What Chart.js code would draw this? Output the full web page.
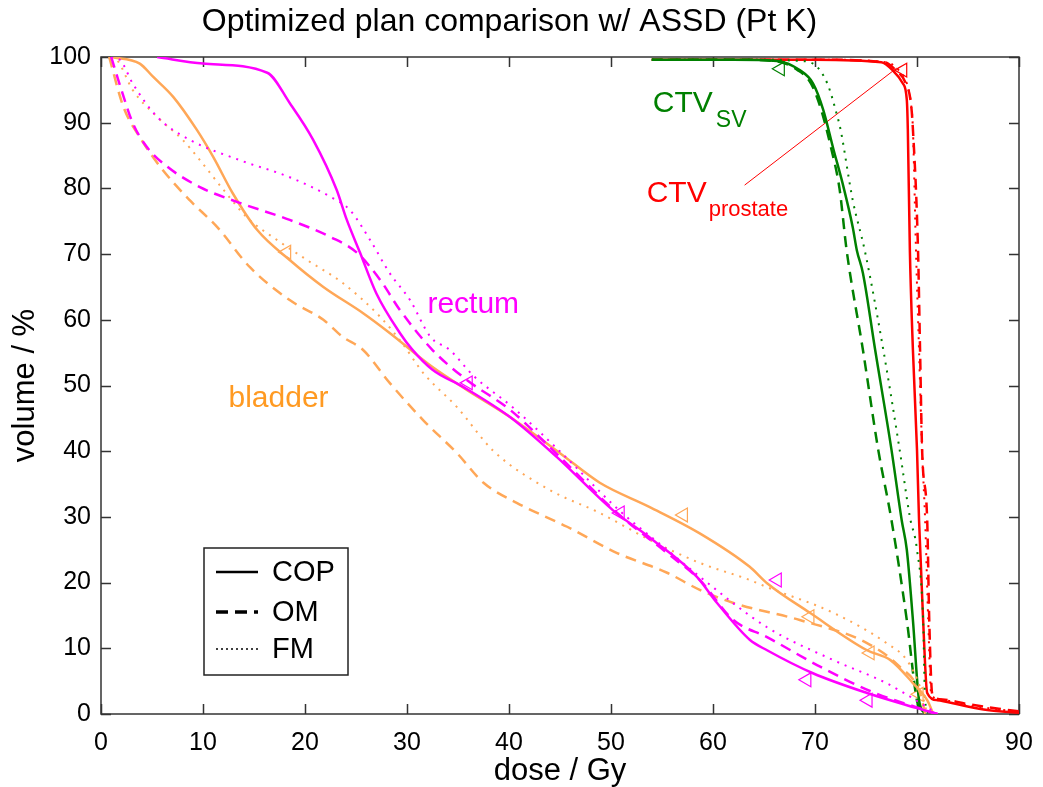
<!DOCTYPE html>
<html>
<head>
<meta charset="utf-8">
<script src="https://cdn.jsdelivr.net/npm/chart.js@4.4.1/dist/chart.umd.min.js"></script>
<style>
  html, body { margin: 0; padding: 0; background: #fff; }
  #dvh { display: block; }
</style>
</head>
<body>
<canvas id="dvh" width="1043" height="787"></canvas>
<script>
// dose (Gy) / volume (%), one pair of arrays per curve
var doseRectumCOP = [5.5, 10, 16.3, 18.5, 20.8, 23.1, 24.1, 25.4, 27, 29.3, 30.5, 32.5, 35.5, 40.1, 44.7, 50.2, 54.1, 58.4, 60.4, 63.6, 65.3, 69.8, 75.1, 80, 82];
var volRectumCOP  = [100, 99, 97.6, 93, 87.4, 79.8, 75.2, 70.2, 64, 58, 55.5, 52.4, 49.8, 45.2, 39.1, 31, 26.5, 20.9, 16.9, 11.3, 9.7, 6.2, 3.2, 0.9, 0];
var doseRectumOM  = [1, 2, 3.1, 4.5, 6.5, 9.7, 13.6, 18.5, 22.5, 25.1, 27.4, 29.3, 32.5, 35.9, 40.1, 45, 50.6, 55.5, 58.7, 62, 65.3, 70.5, 75.7, 80, 82];
var volRectumOM   = [100, 95, 90, 86.3, 83.3, 80.2, 77.8, 75.2, 72.6, 70.2, 66, 61.5, 55.4, 50.8, 46.3, 39.1, 30.6, 24.5, 20.4, 14.3, 11.7, 7.2, 3.3, 1, 0];
var doseRectumFM  = [1, 1.9, 3.1, 5.5, 8.7, 13.6, 18.5, 22.5, 24.4, 26.4, 28.3, 30.3, 32.3, 34.2, 36.5, 40.5, 45.3, 50.8, 55.5, 58.7, 65.3, 71.8, 77, 80.3, 82];
var volRectumFM   = [100, 99.5, 96, 90.9, 87.4, 84.3, 81.7, 78.7, 76.7, 72.1, 67.1, 63, 57.4, 55.4, 51.5, 46.5, 39.5, 31, 25, 20.9, 13.2, 8.2, 4.7, 1.7, 0];

var doseBladderCOP = [1, 3.8, 5.1, 7.1, 9.4, 11, 12.9, 15.3, 18.5, 21.8, 25.7, 28.3, 32.5, 35.9, 40.1, 45, 48.9, 53.8, 58.7, 63.6, 65.3, 69.5, 75.1, 77.4, 79.6, 81, 81.6];
var volBladderCOP  = [100, 99, 97, 93.9, 88.9, 84.8, 79.3, 73.7, 69.1, 65, 61, 58, 52.8, 49.3, 45.2, 39.7, 35.2, 31.5, 27.5, 22.4, 19.9, 15.4, 9.7, 8.2, 4.7, 2.1, 0];
var doseBladderOM  = [0.8, 2.2, 3.8, 5.8, 8.7, 11.4, 14.6, 18.5, 21.8, 23.7, 25.7, 28.3, 31.6, 34.9, 37.5, 40.8, 45.7, 50.6, 55.5, 58.7, 62, 68.5, 75.1, 78.3, 80.3, 80.8];
var volBladderOM   = [100, 92.4, 87.8, 83.3, 78.2, 74.1, 68, 63, 60, 57.4, 55.4, 50.4, 44.7, 39.7, 35.2, 32.1, 28.5, 24.5, 21.5, 18.9, 16.9, 14.3, 10.8, 7.2, 3.2, 0];
var doseBladderFM  = [1, 1.6, 3.1, 5.5, 8, 9.7, 12, 14.3, 17.3, 20.2, 23.7, 27.4, 29.5, 31.6, 34.9, 38.5, 44, 48.9, 53.8, 58.7, 63.6, 65.3, 71.8, 77, 79, 80.3, 81];
var volBladderFM   = [100, 99.5, 95, 90.9, 87.4, 84.3, 79.8, 75.6, 72.1, 69.1, 65.6, 60.4, 56.5, 51.9, 46.7, 40, 34.1, 30.6, 26.5, 23, 20.4, 19.3, 15.4, 10.8, 8.2, 4.1, 0];

var doseSvCOP = [54, 62, 66.3, 68.5, 69.8, 70.8, 71.8, 72.7, 73.7, 74.1, 74.7, 75.9, 77.5, 78.5, 79, 79.6, 80.2, 80.8];
var volSvCOP  = [99.6, 99.6, 99.4, 98, 96, 92, 86, 80.8, 74.1, 70.6, 67.1, 55.4, 40.2, 29.5, 25, 14.3, 2.1, 0];
var doseSvOM  = [54, 62, 66, 68.3, 69.6, 70.6, 71.6, 72.4, 73.1, 74.7, 76.2, 77.5, 79, 80, 80.5];
var volSvOM   = [99.6, 99.6, 99.4, 98, 96, 92, 86, 80, 70.6, 55.4, 40.2, 29.5, 14.3, 2, 0];
var doseSvFM  = [54, 64, 68.5, 69.8, 71.2, 72.2, 72.5, 73.7, 74.9, 76.7, 78.3, 79.3, 80, 80.6, 80.8, 81.2];
var volSvFM   = [99.6, 99.6, 99.4, 99, 96, 90.9, 89, 78.2, 70.4, 55.4, 40.2, 30, 25, 14.3, 2, 0];

var doseProstateCOP = [54, 70, 76.5, 77.6, 78.6, 79, 79.1, 79.3, 79.6, 80, 80.2, 80.6, 81, 82, 84.2, 86.9, 90];
var volProstateCOP  = [99.6, 99.6, 99.2, 98, 96, 93.5, 89, 70.6, 55.4, 40.2, 29.5, 14.3, 3.2, 2.1, 1.4, 0.6, 0.2];
var doseProstateOM  = [54, 70, 76.8, 77.9, 78.9, 79.4, 79.6, 80.1, 80.3, 80.5, 81, 81.2, 81.5, 82.5, 85, 88, 90];
var volProstateOM   = [99.6, 99.6, 99.2, 98, 96, 93, 89, 70.6, 55.4, 40.2, 29.5, 14.3, 3, 2.2, 1.5, 0.8, 0.4];
var doseProstateFM  = [54, 70, 77, 78.2, 79, 79.4, 79.6, 79.9, 80.2, 80.5, 80.8, 81.1, 81.4, 82.3, 85, 88, 90];
var volProstateFM   = [99.6, 99.6, 99.2, 98, 96, 93, 89, 70.6, 55.4, 40.2, 29.5, 14.3, 3, 2.2, 1.3, 0.7, 0.3];

// triangle markers
var markBladderX = [18.2, 57.1, 69.5, 75.4, 80.2];
var markBladderY = [70.3, 30.3, 14.8, 9.3, 3];
var markRectumX  = [36, 50.9, 66.3, 69.2, 75.2];
var markRectumY  = [50.4, 30.6, 20.4, 5.2, 2.1];
var markSvX = [66.6], markSvY = [98.2];
var markProstateX = [78.6], markProstateY = [98];

// pointer line from the CTV prostate label
var pointerX = [63.1, 78];
var pointerY = [80.5, 98.3];

var xTicks = [0, 10, 20, 30, 40, 50, 60, 70, 80, 90];
var yTicks = [0, 10, 20, 30, 40, 50, 60, 70, 80, 90, 100];

var MAGENTA = '#ff00ff', ORANGE = '#ffa757', ORANGE_TXT = '#ff9a22', GREEN = '#008000', RED = '#ff0000';
var FONT = '"Liberation Sans", Arial, Helvetica, sans-serif';

function pts(xs, ys) {
  return xs.map(function (x, i) { return { x: x, y: ys[i] }; });
}

var styles = {
  COP: { borderDash: [], borderWidth: 2.5 },
  OM:  { borderDash: [11, 7], borderWidth: 2.5 },
  FM:  { borderDash: [2, 6], borderWidth: 2 }
};

function curve(label, xs, ys, color, kind) {
  return {
    label: label,
    data: pts(xs, ys),
    borderColor: color,
    borderWidth: styles[kind].borderWidth,
    borderDash: styles[kind].borderDash,
    pointRadius: 0,
    fill: false,
    cubicInterpolationMode: 'monotone'
  };
}

function markers(xs, ys, color) {
  return {
    label: 'markers',
    data: pts(xs, ys),
    showLine: false,
    pointStyle: 'triangle',
    rotation: 270,
    pointRadius: 8,
    pointBorderWidth: 1.2,
    pointBorderColor: color,
    pointBackgroundColor: 'rgba(255,255,255,0)',
    borderColor: color
  };
}

var datasets = [
  curve('rectum COP', doseRectumCOP, volRectumCOP, MAGENTA, 'COP'),
  curve('rectum OM', doseRectumOM, volRectumOM, MAGENTA, 'OM'),
  curve('rectum FM', doseRectumFM, volRectumFM, MAGENTA, 'FM'),
  curve('bladder COP', doseBladderCOP, volBladderCOP, ORANGE, 'COP'),
  curve('bladder OM', doseBladderOM, volBladderOM, ORANGE, 'OM'),
  curve('bladder FM', doseBladderFM, volBladderFM, ORANGE, 'FM'),
  curve('CTV SV COP', doseSvCOP, volSvCOP, GREEN, 'COP'),
  curve('CTV SV OM', doseSvOM, volSvOM, GREEN, 'OM'),
  curve('CTV SV FM', doseSvFM, volSvFM, GREEN, 'FM'),
  curve('CTV prostate COP', doseProstateCOP, volProstateCOP, RED, 'COP'),
  curve('CTV prostate OM', doseProstateOM, volProstateOM, RED, 'OM'),
  curve('CTV prostate FM', doseProstateFM, volProstateFM, RED, 'FM'),
  markers(markBladderX, markBladderY, ORANGE),
  markers(markRectumX, markRectumY, MAGENTA),
  markers(markSvX, markSvY, GREEN),
  markers(markProstateX, markProstateY, RED),
  {
    label: 'pointer',
    data: pts(pointerX, pointerY),
    borderColor: RED,
    borderWidth: 1,
    pointRadius: 0
  }
];

// MATLAB style box with inward ticks on all four sides
var boxAxes = {
  id: 'boxAxes',
  beforeDatasetsDraw: function (chart) {
    var ctx = chart.ctx, a = chart.chartArea, sx = chart.scales.x, sy = chart.scales.y;
    ctx.save();
    ctx.strokeStyle = '#333';
    ctx.lineWidth = 1.5;
    ctx.strokeRect(a.left, a.top, a.right - a.left, a.bottom - a.top);
    ctx.beginPath();
    xTicks.forEach(function (v) {
      var px = Math.round(sx.getPixelForValue(v)) + 0.5;
      ctx.moveTo(px, a.bottom); ctx.lineTo(px, a.bottom - 10);
      ctx.moveTo(px, a.top); ctx.lineTo(px, a.top + 10);
    });
    yTicks.forEach(function (v) {
      var py = Math.round(sy.getPixelForValue(v)) + 0.5;
      ctx.moveTo(a.left, py); ctx.lineTo(a.left + 10, py);
      ctx.moveTo(a.right, py); ctx.lineTo(a.right - 10, py);
    });
    ctx.stroke();
    ctx.restore();
  }
};

// structure names, placed in data coordinates
var labels = {
  id: 'labels',
  afterDatasetsDraw: function (chart) {
    var ctx = chart.ctx, sx = chart.scales.x, sy = chart.scales.y;
    function txt(s, x, y, size, color) {
      ctx.font = size + 'px ' + FONT;
      ctx.fillStyle = color;
      ctx.textAlign = 'left';
      ctx.textBaseline = 'alphabetic';
      ctx.fillText(s, sx.getPixelForValue(x), sy.getPixelForValue(y));
      return ctx.measureText(s).width;
    }
    ctx.save();
    txt('rectum', 32, 61, 30, MAGENTA);
    txt('bladder', 12.5, 46.7, 30, ORANGE_TXT);
    var w = txt('CTV', 54.1, 91.6, 30, GREEN);
    txt('SV', 54.1 + (w + 3) / 10.2, 89.3, 23, GREEN);
    w = txt('CTV', 53.5, 77.9, 30, RED);
    txt('prostate', 53.5 + (w + 2) / 10.2, 75.8, 22, RED);
    ctx.restore();
  }
};

// line-style key in the lower left corner
var styleKey = {
  id: 'styleKey',
  afterDatasetsDraw: function (chart) {
    var ctx = chart.ctx, a = chart.chartArea;
    var left = a.left + 103, top = a.top + 491, w = 144, h = 127;
    ctx.save();
    ctx.fillStyle = '#fff';
    ctx.fillRect(left, top, w, h);
    ctx.strokeStyle = '#222';
    ctx.lineWidth = 1.5;
    ctx.strokeRect(left, top, w, h);
    var rows = [
      ['COP', [], 2.5, 24],
      ['OM', [12, 7], 3.5, 64],
      ['FM', [2, 3], 1.5, 101]
    ];
    rows.forEach(function (r) {
      ctx.beginPath();
      ctx.setLineDash(r[1]);
      ctx.lineWidth = r[2];
      ctx.strokeStyle = '#000';
      ctx.moveTo(left + 12, top + r[3]);
      ctx.lineTo(left + 54, top + r[3]);
      ctx.stroke();
      ctx.setLineDash([]);
      ctx.fillStyle = '#000';
      ctx.font = '29px ' + FONT;
      ctx.textBaseline = 'middle';
      ctx.fillText(r[0], left + 68, top + r[3] + 1);
    });
    ctx.restore();
  }
};

new Chart(document.getElementById('dvh'), {
  type: 'line',
  data: { datasets: datasets },
  plugins: [boxAxes, labels, styleKey],
  options: {
    responsive: false,
    animation: false,
    devicePixelRatio: 1,
    layout: { padding: { top: 0, right: 24, left: 0, bottom: 0 } },
    plugins: {
      legend: { display: false },
      tooltip: { enabled: false },
      title: {
        display: true,
        text: 'Optimized plan comparison w/ ASSD (Pt K)',
        color: '#000',
        font: { family: FONT, size: 32, weight: 'normal', lineHeight: 1.2 },
        padding: { top: 3, bottom: 15.6 }
      }
    },
    scales: {
      x: {
        type: 'linear',
        min: 0,
        max: 90,
        afterFit: function (s) { s.height = 73; },
        afterBuildTicks: function (s) { s.ticks = xTicks.map(function (v) { return { value: v }; }); },
        grid: { display: false },
        border: { display: false },
        ticks: { color: '#000', padding: 6, maxRotation: 0, font: { family: FONT, size: 25 } },
        title: {
          display: true,
          text: 'dose / Gy',
          color: '#000',
          font: { family: FONT, size: 31, lineHeight: 1 },
          padding: { top: 0, bottom: 0 }
        }
      },
      y: {
        type: 'linear',
        min: 0,
        max: 100,
        afterFit: function (s) { s.width = 101; },
        afterBuildTicks: function (s) { s.ticks = yTicks.map(function (v) { return { value: v }; }); },
        grid: { display: false },
        border: { display: false },
        ticks: { color: '#000', padding: 2, font: { family: FONT, size: 25 } },
        title: {
          display: true,
          text: 'volume / %',
          color: '#000',
          font: { family: FONT, size: 31 },
          padding: { top: 7, bottom: 0 }
        }
      }
    }
  }
});
</script>
</body>
</html>
